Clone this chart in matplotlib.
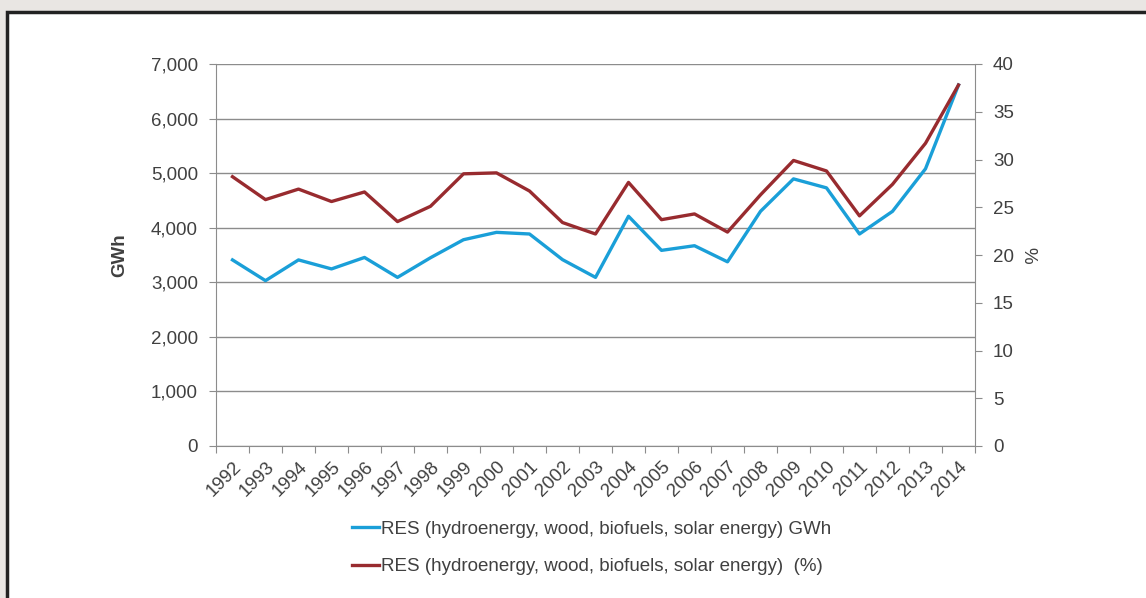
import matplotlib.pyplot as plt
import numpy as np
from matplotlib.patches import Rectangle

plt.rcParams['font.family'] = ['Liberation Sans', 'DejaVu Sans']

years = [str(y) for y in range(1992, 2015)]
res_gwh = [3410, 3030, 3410, 3245, 3455, 3090, 3450, 3780, 3915, 3885, 3415, 3090,
           4210, 3585, 3670, 3375, 4300, 4895, 4730, 3885, 4300, 5080, 6615]
res_pct = [28.2, 25.8, 26.9, 25.6, 26.6, 23.5, 25.1, 28.5, 28.6, 26.7, 23.4, 22.2,
           27.6, 23.7, 24.3, 22.4, 26.3, 29.9, 28.8, 24.1, 27.4, 31.7, 37.8]

blue = '#1a9fd8'
red = '#982b2f'
grey = '#8c8c8c'
txt = '#404040'

fig = plt.figure(figsize=(11.46, 5.98), dpi=100, facecolor='#e9e6e3')
# white panel with dark border on the top and left
fig.patches.append(Rectangle((7 / 1146, -0.05), 1.05, (598 - 12) / 598 + 0.05,
                             transform=fig.transFigure, facecolor='white',
                             edgecolor='#222222', linewidth=2.5, zorder=-10))

ax = fig.add_axes([216 / 1146, (598 - 446) / 598, (975 - 216) / 1146, (446 - 64) / 598])
ax.set_facecolor('none')
x = np.arange(len(years))

l1, = ax.plot(x, res_gwh, color=blue, lw=2.4, zorder=3,
              label='RES (hydroenergy, wood, biofuels, solar energy) GWh')
ax.set_xlim(-0.5, len(years) - 0.5)
ax.set_ylim(0, 7000)
ax.set_yticks(range(0, 7001, 1000))
ax.set_yticklabels([f'{v:,}' for v in range(0, 7001, 1000)])
ax.grid(axis='y', color=grey, lw=1)
ax.set_axisbelow(True)

ax.set_xticks(np.arange(-0.5, len(years), 1))
ax.set_xticklabels([])
ax.set_xticks(x, minor=True)
ax.set_xticklabels(years, minor=True, rotation=45, ha='right', rotation_mode='anchor')
ax.tick_params(axis='x', which='major', length=5, color=grey, direction='out')
ax.tick_params(axis='x', which='minor', length=0, pad=9, labelsize=13.5, labelcolor=txt)
ax.tick_params(axis='y', length=5, color=grey, labelsize=13.5, labelcolor=txt, pad=8)
for s in ['top', 'right']:
    ax.spines[s].set_visible(False)
for s in ['left', 'bottom']:
    ax.spines[s].set_color(grey)
ax.set_ylabel('GWh', fontsize=13.5, fontweight='bold', color=txt, labelpad=16)

ax2 = ax.twinx()
l2, = ax2.plot(x, res_pct, color=red, lw=2.4, zorder=2,
               label='RES (hydroenergy, wood, biofuels, solar energy)  (%)')
ax2.set_ylim(0, 40)
ax2.set_yticks(range(0, 41, 5))
ax2.tick_params(axis='y', length=5, color=grey, labelsize=13.5, labelcolor=txt, pad=8)
for s in ['top', 'left', 'bottom']:
    ax2.spines[s].set_visible(False)
ax2.spines['right'].set_color(grey)
ax2.set_ylabel('%', fontsize=13.5, color=txt, rotation=270, labelpad=16)

fig.legend(handles=[l1, l2], loc='center', bbox_to_anchor=(592 / 1146, (598 - 548) / 598),
           frameon=False, fontsize=13.5, handlelength=1.4, handletextpad=0.15,
           labelspacing=1.1, labelcolor=txt)

fig.savefig('out.png', dpi=100, facecolor=fig.get_facecolor())
